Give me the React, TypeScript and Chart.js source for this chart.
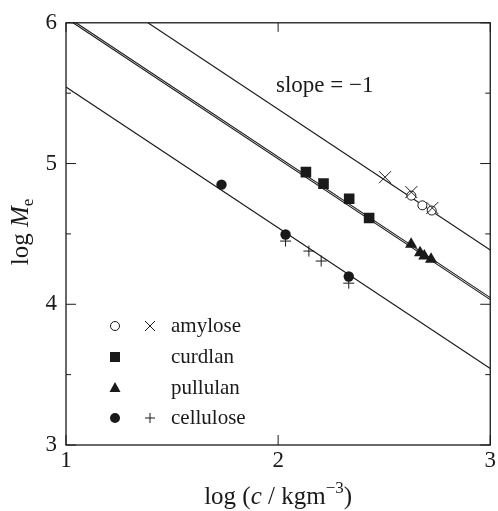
import React, { useEffect, useRef } from 'react';
import { Chart, registerables } from 'chart.js';

Chart.register(...registerables);

// ---- data (x = log(c / kgm^-3), y = log Me) ----
const amyloseCircles = [
  { x: 2.628, y: 4.772 },
  { x: 2.68, y: 4.703 },
  { x: 2.724, y: 4.666 },
];
const amyloseCrosses = [
  { x: 2.504, y: 4.903 },
  { x: 2.628, y: 4.797 },
  { x: 2.727, y: 4.684 },
];
const curdlanPoints = [
  { x: 2.131, y: 4.939 },
  { x: 2.214, y: 4.857 },
  { x: 2.335, y: 4.75 },
  { x: 2.429, y: 4.613 },
];
const pullulanPoints = [
  { x: 2.627, y: 4.426 },
  { x: 2.669, y: 4.366 },
  { x: 2.689, y: 4.343 },
  { x: 2.721, y: 4.319 },
];
const celluloseCircles = [
  { x: 1.733, y: 4.85 },
  { x: 2.035, y: 4.496 },
  { x: 2.333, y: 4.197 },
];
const cellulosePlus = [
  { x: 2.035, y: 4.449 },
  { x: 2.145, y: 4.378 },
  { x: 2.203, y: 4.307 },
  { x: 2.333, y: 4.15 },
];

// slope = -1 reference lines (end points)
const amyloseFit = [
  { x: 1.386, y: 6 },
  { x: 3, y: 4.386 },
];
const curdlanFit = [
  { x: 1.047, y: 6 },
  { x: 3, y: 4.047 },
];
const pullulanFit = [
  { x: 1.033, y: 6 },
  { x: 3, y: 4.033 },
];
const celluloseFit = [
  { x: 1, y: 5.544 },
  { x: 3, y: 3.544 },
];

const xMin = 1;
const xMax = 3;
const yMin = 3;
const yMax = 6;

const legendRows = [
  { label: 'amylose', marks: ['openCircle', 'crossRot'] },
  { label: 'curdlan', marks: ['square'] },
  { label: 'pullulan', marks: ['triangle'] },
  { label: 'cellulose', marks: ['filledCircle', 'plus'] },
];
const slopeLabel = 'slope = \u22121';

const SERIF = "'Liberation Serif', 'DejaVu Serif', serif";
const INK = '#1a1a1a';

type Run = { text: string; font: string; dy?: number };

function drawRuns(ctx: CanvasRenderingContext2D, runs: Run[], x: number, y: number) {
  let total = 0;
  for (const r of runs) {
    ctx.font = r.font;
    total += ctx.measureText(r.text).width;
  }
  let cx = x - total / 2;
  for (const r of runs) {
    ctx.font = r.font;
    ctx.fillText(r.text, cx, y + (r.dy || 0));
    cx += ctx.measureText(r.text).width;
  }
}

function drawMark(ctx: CanvasRenderingContext2D, kind: string, x: number, y: number) {
  ctx.save();
  ctx.strokeStyle = INK;
  ctx.fillStyle = INK;
  ctx.lineWidth = 1;
  ctx.beginPath();
  if (kind === 'openCircle') {
    ctx.fillStyle = '#fff';
    ctx.arc(x, y, 4.5, 0, Math.PI * 2);
    ctx.fill();
    ctx.stroke();
  } else if (kind === 'filledCircle') {
    ctx.arc(x, y, 5, 0, Math.PI * 2);
    ctx.fill();
  } else if (kind === 'square') {
    ctx.rect(x - 5, y - 5, 10, 10);
    ctx.fill();
  } else if (kind === 'triangle') {
    ctx.moveTo(x, y - 6);
    ctx.lineTo(x + 5.5, y + 4);
    ctx.lineTo(x - 5.5, y + 4);
    ctx.closePath();
    ctx.fill();
  } else if (kind === 'crossRot') {
    ctx.moveTo(x - 5, y - 5);
    ctx.lineTo(x + 5, y + 5);
    ctx.moveTo(x + 5, y - 5);
    ctx.lineTo(x - 5, y + 5);
    ctx.stroke();
  } else if (kind === 'plus') {
    ctx.moveTo(x - 5, y);
    ctx.lineTo(x + 5, y);
    ctx.moveTo(x, y - 5);
    ctx.lineTo(x, y + 5);
    ctx.stroke();
  }
  ctx.restore();
}

const decorPlugin = {
  id: 'decor',
  afterDraw(chart: any) {
    const { ctx, chartArea } = chart;
    const xs = chart.scales.x;
    const ys = chart.scales.y;
    const { left, right, top, bottom } = chartArea;
    ctx.save();
    // frame
    ctx.strokeStyle = INK;
    ctx.lineWidth = 1.3;
    ctx.strokeRect(left, top, right - left, bottom - top);
    // inward ticks
    ctx.lineWidth = 1;
    ctx.beginPath();
    for (const t of xs.ticks) {
      const px = xs.getPixelForValue(t.value);
      ctx.moveTo(px, bottom);
      ctx.lineTo(px, bottom - 10);
      ctx.moveTo(px, top);
      ctx.lineTo(px, top + 9);
    }
    for (const t of ys.ticks) {
      const py = ys.getPixelForValue(t.value);
      const len = Number.isInteger(t.value) ? 10 : 5;
      ctx.moveTo(left, py);
      ctx.lineTo(left + len, py);
      ctx.moveTo(right, py);
      ctx.lineTo(right - len, py);
    }
    ctx.stroke();

    ctx.fillStyle = INK;
    ctx.textBaseline = 'alphabetic';
    // x title
    drawRuns(
      ctx,
      [
        { text: 'log (', font: `25px ${SERIF}` },
        { text: 'c', font: `italic 25px ${SERIF}` },
        { text: ' / kgm', font: `25px ${SERIF}` },
        { text: '\u22123', font: `17px ${SERIF}`, dy: -11 },
        { text: ')', font: `25px ${SERIF}` },
      ],
      (left + right) / 2,
      504
    );
    // y title
    ctx.save();
    ctx.translate(28, 232);
    ctx.rotate(-Math.PI / 2);
    drawRuns(
      ctx,
      [
        { text: 'log ', font: `25px ${SERIF}` },
        { text: 'M', font: `italic 25px ${SERIF}` },
        { text: 'e', font: `17px ${SERIF}`, dy: 5 },
      ],
      0,
      0
    );
    ctx.restore();

    // slope label
    ctx.font = `23px ${SERIF}`;
    ctx.textAlign = 'left';
    ctx.fillText(slopeLabel, left + 210, top + 69);

    // legend
    const rowY = [326, 357, 388, 418];
    const markX = [115, 150];
    ctx.font = `21px ${SERIF}`;
    ctx.textBaseline = 'middle';
    legendRows.forEach((row, i) => {
      row.marks.forEach((m, j) => drawMark(ctx, m, markX[j], rowY[i]));
      ctx.fillStyle = INK;
      ctx.fillText(row.label, 171, rowY[i]);
    });
    ctx.restore();
  },
};

export default function App() {
  const ref = useRef<HTMLCanvasElement | null>(null);

  useEffect(() => {
    if (!ref.current) return;
    const lineDs = (data: any[]) => ({
      type: 'line' as const,
      data,
      borderColor: INK,
      borderWidth: 1.1,
      pointRadius: 0,
      fill: false,
      showLine: true,
      clip: 0,
    });
    const chart = new Chart(ref.current, {
      type: 'scatter',
      data: {
        datasets: [
          {
            data: amyloseCrosses,
            pointStyle: 'crossRot',
            pointRadius: 8.5,
            borderColor: INK,
            borderWidth: 1,
            backgroundColor: INK,
          },
          {
            data: amyloseCircles,
            pointStyle: 'circle',
            pointRadius: 4.5,
            borderColor: INK,
            borderWidth: 1,
            backgroundColor: '#ffffff',
          },
          {
            data: curdlanPoints,
            pointStyle: 'rect',
            pointRadius: 7.5,
            borderWidth: 0,
            backgroundColor: INK,
          },
          {
            data: pullulanPoints,
            pointStyle: 'triangle',
            pointRadius: 7,
            borderWidth: 0,
            backgroundColor: INK,
          },
          {
            data: cellulosePlus,
            pointStyle: 'cross',
            pointRadius: 5.5,
            borderColor: INK,
            borderWidth: 1,
          },
          {
            data: celluloseCircles,
            pointStyle: 'circle',
            pointRadius: 5.2,
            borderWidth: 0,
            backgroundColor: INK,
          },
          lineDs(amyloseFit),
          lineDs(curdlanFit),
          lineDs(pullulanFit),
          lineDs(celluloseFit),
        ] as any,
      },
      options: {
        animation: false,
        responsive: false,
        devicePixelRatio: 1,
        layout: {
          autoPadding: false,
          padding: { left: 0, top: 20, right: 7, bottom: 0 },
        },
        plugins: {
          legend: { display: false },
          tooltip: { enabled: false },
        },
        scales: {
          x: {
            type: 'linear',
            min: xMin,
            max: xMax,
            grid: { display: false, drawTicks: false },
            border: { display: false },
            ticks: {
              stepSize: 1,
              autoSkip: false,
              maxRotation: 0,
              padding: 2,
              color: INK,
              font: { family: SERIF, size: 23 },
            },
            afterFit: (s: any) => {
              s.height = 66;
            },
          },
          y: {
            type: 'linear',
            min: yMin,
            max: yMax,
            grid: { display: false, drawTicks: false },
            border: { display: false },
            ticks: {
              stepSize: 0.5,
              autoSkip: false,
              padding: 9,
              color: INK,
              font: { family: SERIF, size: 23 },
              callback: (v: any) => (Number.isInteger(v) ? String(v) : ''),
            },
            afterFit: (s: any) => {
              s.width = 66;
            },
          },
        },
      },
      plugins: [decorPlugin],
    });
    return () => chart.destroy();
  }, []);

  return (
    <div style={{ position: 'absolute', left: 0, top: 0, width: 498, height: 511, background: '#fff' }}>
      <canvas ref={ref} width={498} height={511} style={{ display: 'block' }} />
    </div>
  );
}
